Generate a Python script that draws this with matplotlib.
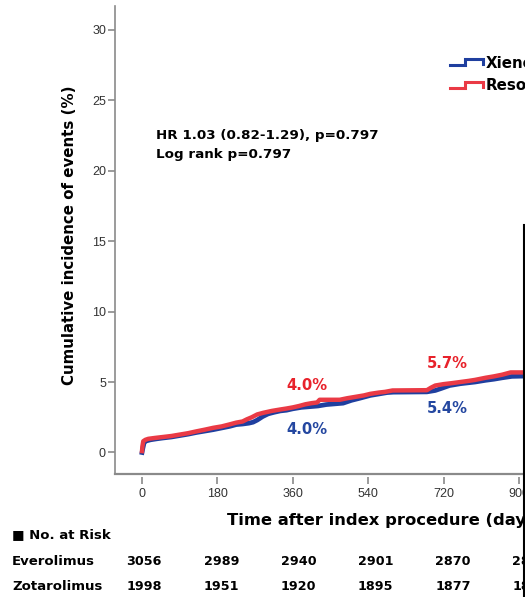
import numpy as np
import matplotlib
matplotlib.use("Agg")
import matplotlib.pyplot as plt
import matplotlib.transforms as mtransforms
from matplotlib.lines import Line2D
from matplotlib.legend_handler import HandlerBase

# Kaplan-Meier style cumulative incidence (days, %)
xience_days = [0, 2, 5, 10, 20, 35, 50, 70, 90, 110, 130, 150, 170, 190, 210, 225, 240,
               255, 265, 275, 288, 301, 315, 330, 345, 360, 380, 400, 420, 440, 460, 480,
               500, 520, 545, 565, 585, 600, 680, 700, 715, 734, 760, 795, 820, 840, 860,
               883, 913]
xience_vals = [0.0, 0.3, 0.7, 0.82, 0.9, 0.97, 1.03, 1.1, 1.2, 1.3, 1.42, 1.52, 1.62, 1.74,
               1.86, 1.98, 2.02, 2.08, 2.15, 2.3, 2.55, 2.74, 2.85, 2.95, 3.0, 3.1, 3.2, 3.25,
               3.3, 3.4, 3.45, 3.5, 3.7, 3.85, 4.05, 4.15, 4.25, 4.28, 4.3, 4.4, 4.55, 4.75,
               4.88, 5.0, 5.12, 5.2, 5.3, 5.4, 5.42]

resolute_days = [0, 1, 3, 8, 15, 30, 50, 70, 90, 110, 130, 150, 170, 190, 210, 225, 240,
                 250, 262, 275, 290, 310, 330, 345, 360, 375, 390, 405, 418, 424, 472, 490,
                 510, 530, 545, 565, 580, 598, 680, 690, 700, 720, 740, 760, 780, 795, 820,
                 840, 860, 880, 913]
resolute_vals = [0.1, 0.45, 0.8, 0.9, 0.97, 1.03, 1.1, 1.17, 1.27, 1.37, 1.5, 1.62, 1.75,
                 1.85, 2.0, 2.12, 2.2, 2.35, 2.5, 2.7, 2.82, 2.95, 3.05, 3.12, 3.2, 3.3, 3.42,
                 3.5, 3.55, 3.74, 3.74, 3.85, 3.95, 4.05, 4.16, 4.25, 4.3, 4.4, 4.42, 4.6,
                 4.75, 4.85, 4.92, 5.0, 5.08, 5.15, 5.3, 5.4, 5.52, 5.68, 5.68]

series_labels = ["Xience", "Resolute"]

x_ticks = [0, 180, 360, 540, 720, 900]
y_ticks = [0, 5, 10, 15, 20, 25, 30]

# percentages written next to the curves: (day, %, text)
blue_notes = [(394, 1.6, "4.0%"), (728, 3.13, "5.4%")]
red_notes = [(394, 4.74, "4.0%"), (728, 6.28, "5.7%")]

# number at risk
risk_days = [0, 180, 360, 540, 720, 900]
everolimus_risk = ["3056", "2989", "2940", "2901", "2870", "2849"]
zotarolimus_risk = ["1998", "1951", "1920", "1895", "1877", "1860"]

BLUE = "#1f3f9f"
RED = "#ea3a45"
GREY = "#8a8a8a"
BOLD = {"family": "DejaVu Sans", "weight": "bold"}

plt.rcParams["font.family"] = ["Liberation Sans", "DejaVu Sans"]


class StepHandler(HandlerBase):
    # little staircase glyph like the SPSS legend
    def create_artists(self, legend, orig_handle, xdescent, ydescent,
                       width, height, fontsize, trans):
        xs = np.array([0, 0.45, 0.45, 1.0, 1.0]) * width - xdescent
        ys = np.array([0.22, 0.22, 0.78, 0.78, 0.3]) * height - ydescent
        ln = Line2D(xs, ys, color=orig_handle.get_color(), lw=2.2,
                    solid_joinstyle="miter", transform=trans)
        return [ln]


fig = plt.figure(figsize=(5.25, 5.97), dpi=100)
ax = fig.add_axes([115 / 525, 123 / 597, 0.9292, 468 / 597])

l1, = ax.plot(xience_days, xience_vals, color=BLUE, lw=3.4, zorder=3,
              solid_joinstyle="round")
l2, = ax.plot(resolute_days, resolute_vals, color=RED, lw=3.2, zorder=4,
              solid_joinstyle="round")

ax.set_xlim(-64.5, 1100)
ax.set_ylim(-1.525, 31.67)

ax.set_xticks(x_ticks)
ax.set_yticks(y_ticks)
ax.tick_params(axis="both", direction="out", length=5, width=1.2, color=GREY,
               labelsize=9, labelcolor="#333333")
ax.tick_params(axis="y", pad=1.5)
ax.tick_params(axis="x", pad=3)

for s in ["top", "right"]:
    ax.spines[s].set_visible(False)
ax.spines["left"].set_color(GREY)
ax.spines["left"].set_linewidth(1.2)
# x ticks sit a little below the frame line
ax.spines["bottom"].set_position(("outward", 2))
ax.spines["bottom"].set_visible(False)
ax.axhline(-1.525, color=GREY, lw=1.6, clip_on=False, zorder=5)

# black edge seen at the right side of the crop
fig.add_artist(Line2D([523.5 / 525, 523.5 / 525], [0, 1 - 225 / 597],
                      transform=fig.transFigure, color="black", lw=1.5, zorder=10))

fig.text(70 / 525, (597 - 235.5) / 597, "Cumulative incidence of events (%)",
         rotation=90, ha="center", va="center", fontsize=10.8, **BOLD)

fig.text(227 / 525, 1 - 520 / 597, "Time after index procedure (days)",
         ha="left", va="center", fontsize=11.8, **BOLD)

ax.text(32.7, 22.45, "HR 1.03 (0.82-1.29), p=0.797", ha="left", va="center",
        fontsize=9.7, **BOLD)
ax.text(32.7, 21.17, "Log rank p=0.797", ha="left", va="center",
        fontsize=9.7, **BOLD)

for d, v, t in blue_notes:
    ax.text(d, v, t, color="#2447a0", ha="center", va="center", fontsize=10.6, **BOLD)
for d, v, t in red_notes:
    ax.text(d, v, t, color="#e8222b", ha="center", va="center", fontsize=10.6, **BOLD)

fig.legend([l1, l2], series_labels, loc="upper left",
           bbox_to_anchor=(450 / 525, 1 - 55.5 / 597), frameon=False,
           borderpad=0, borderaxespad=0, handlelength=2.2, handletextpad=0.15,
           labelspacing=0.5, handler_map={Line2D: StepHandler()},
           prop={"family": "DejaVu Sans", "weight": "bold", "size": 10.8})

# number at risk table; columns drift slightly right of the ticks
tr = mtransforms.blended_transform_factory(ax.transData, fig.transFigure)
fig.text(12 / 525, 1 - 535 / 597, "\u25a0 No. at Risk", ha="left", va="center",
         fontsize=9.5, **BOLD)
fig.text(12 / 525, 1 - 561.7 / 597, "Everolimus", ha="left", va="center",
         fontsize=9.5, **BOLD)
fig.text(12 / 525, 1 - 586 / 597, "Zotarolimus", ha="left", va="center",
         fontsize=9.5, **BOLD)
for d, a, b in zip(risk_days, everolimus_risk, zotarolimus_risk):
    xpos = d * 1.024 + 5
    ax.text(xpos, 1 - 561.7 / 597, a, transform=tr, ha="center", va="center",
            fontsize=9.2, clip_on=False, **BOLD)
    ax.text(xpos, 1 - 586 / 597, b, transform=tr, ha="center", va="center",
            fontsize=9.2, clip_on=False, **BOLD)

fig.savefig("out.png", dpi=100)
